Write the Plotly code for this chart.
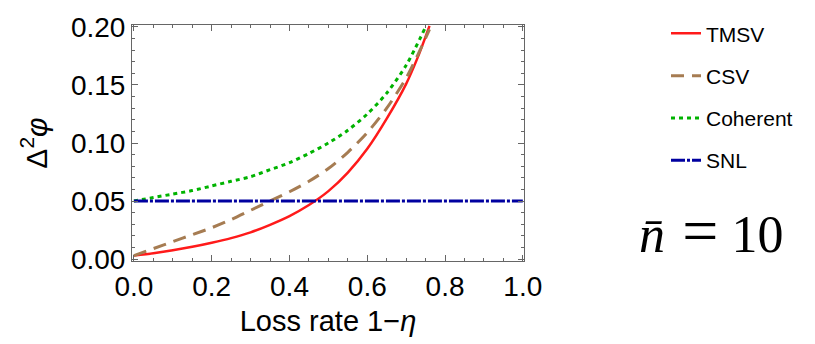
import plotly.graph_objects as go

# Loss rate 1-eta (x) and phase sensitivity values
x_tmsv = [0.0, 0.05, 0.1, 0.15, 0.2, 0.25, 0.3, 0.35, 0.4, 0.45, 0.5, 0.55, 0.6, 0.65, 0.7, 0.73, 0.76]
y_tmsv = [0.003, 0.005, 0.0075, 0.0105, 0.014, 0.018, 0.023, 0.0295, 0.037, 0.0465, 0.0585, 0.0745, 0.095, 0.121, 0.151, 0.174, 0.201]

x_csv = [0.0, 0.05, 0.1, 0.15, 0.2, 0.25, 0.3, 0.35, 0.4, 0.45, 0.5, 0.55, 0.6, 0.65, 0.7, 0.73, 0.76]
y_csv = [0.003, 0.009, 0.015, 0.021, 0.027, 0.034, 0.042, 0.050, 0.058, 0.067, 0.078, 0.092, 0.109, 0.130, 0.156, 0.176, 0.198]

x_coh = [0.0, 0.05, 0.1, 0.15, 0.2, 0.25, 0.3, 0.35, 0.4, 0.45, 0.5, 0.55, 0.6, 0.65, 0.7, 0.75]
y_coh = [0.050, 0.053, 0.056, 0.059, 0.063, 0.067, 0.071, 0.077, 0.083, 0.091, 0.100, 0.111, 0.125, 0.143, 0.167, 0.200]

x_snl = [0.0, 1.0]
y_snl = [0.05, 0.05]

series_names = ["TMSV", "CSV", "Coherent", "SNL"]

fig = go.Figure()
fig.add_trace(go.Scatter(x=x_tmsv, y=y_tmsv, mode="lines", name=series_names[0], legendgroup="a",
                         line=dict(color="#ff1a1a", width=2.5, shape="spline", smoothing=0.8)))
fig.add_trace(go.Scatter(x=x_csv, y=y_csv, mode="lines", name=series_names[1], legendgroup="b",
                         line=dict(color="#a67c52", width=3, dash="13px,8px", shape="spline", smoothing=0.8)))
fig.add_trace(go.Scatter(x=x_coh, y=y_coh, mode="lines", name=series_names[2], legendgroup="c",
                         line=dict(color="#00b300", width=3, dash="4px,4px", shape="spline", smoothing=0.8)))
fig.add_trace(go.Scatter(x=x_snl, y=y_snl, mode="lines", name=series_names[3], legendgroup="d",
                         line=dict(color="#0000a0", width=3, dash="14px,2px,3px,2px")))

axis_common = dict(
    showline=True, linecolor="#666666", linewidth=1, mirror="ticks",
    ticks="inside", ticklen=6, tickcolor="#666666", tickwidth=1,
    showgrid=False, zeroline=False,
    tickfont=dict(family="Liberation Sans, Arial, sans-serif", size=28, color="black"),
)

fig.update_xaxes(
    range=[-0.005, 1.003], tickvals=[0, 0.2, 0.4, 0.6, 0.8, 1.0],
    ticktext=["0.0", "0.2", "0.4", "0.6", "0.8", "1.0"],
    minor=dict(ticks="inside", ticklen=3, dtick=0.05, tick0=0, tickcolor="#666666"),
    title=dict(text="Loss rate 1\u2212<i>\u03b7</i>", standoff=10,
               font=dict(family="Liberation Sans, Arial, sans-serif", size=29, color="black")),
    **axis_common,
)
fig.update_yaxes(
    range=[-0.0017, 0.2017], tickvals=[0, 0.05, 0.1, 0.15, 0.2],
    ticktext=["0.00", "0.05", "0.10", "0.15", "0.20"],
    minor=dict(ticks="inside", ticklen=3, dtick=0.01, tick0=0, tickcolor="#666666"),
    title=dict(text="\u0394<sup>2</sup><i>\u03c6</i>", standoff=14,
               font=dict(family="Liberation Sans, Arial, sans-serif", size=30, color="black")),
    **axis_common,
)

fig.add_annotation(
    xref="paper", yref="paper", x=(711 - 132) / 392, y=(262 - 230) / 244,
    text="<i>n\u0304</i>\u2004<span style=\"font-size:64px\">=</span>\u200510", showarrow=False,
    xanchor="center", yanchor="middle",
    font=dict(family="Liberation Serif, DejaVu Serif, serif", size=52, color="black"),
)

fig.update_layout(
    width=815, height=344,
    margin=dict(l=132, r=291, t=18, b=82),
    plot_bgcolor="white", paper_bgcolor="white",
    legend=dict(x=(666 - 132) / 392, y=1.05, xanchor="left", yanchor="top",
                font=dict(family="Liberation Sans, Arial, sans-serif", size=21, color="black"),
                tracegroupgap=12, bgcolor="rgba(0,0,0,0)"),
)

fig.write_html("out.html")
